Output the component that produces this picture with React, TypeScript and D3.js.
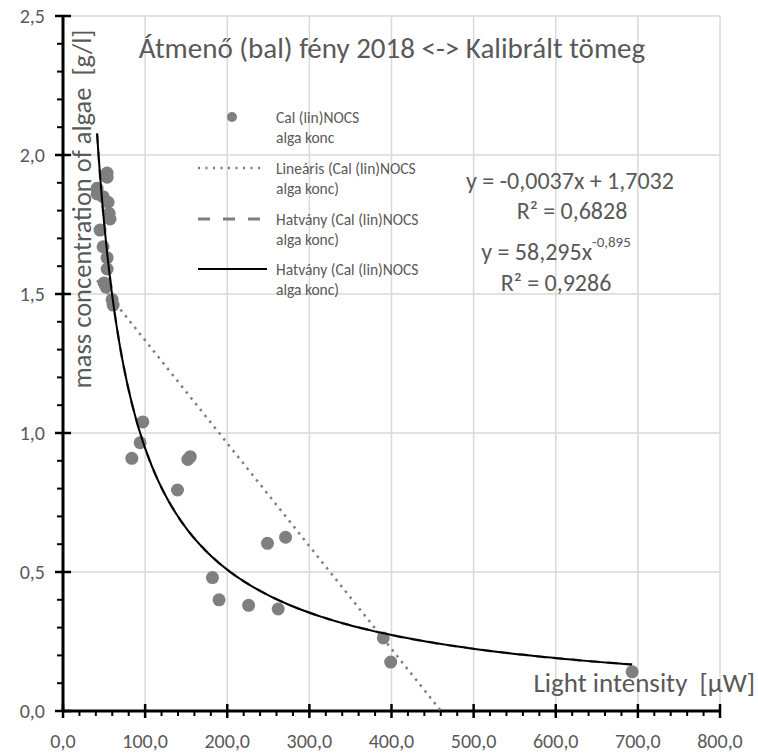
import React, { useEffect, useRef } from "react";
import * as d3 from "d3";

// measured points (light intensity in µW, algae concentration in g/l)
const lightIntensity = [
  53.7, 53.7, 41.5, 41.5, 48.8, 54.9, 56.1, 57.3, 45.1, 48.8, 53.7, 53.7, 50, 52.4, 59.8, 61,
  97.2, 93.9, 83.8, 152, 155, 139.4, 249, 271, 182, 190, 226, 262, 390, 399, 693,
];
const algaeConc = [
  1.935, 1.92, 1.88, 1.86, 1.85, 1.83, 1.79, 1.77, 1.73, 1.67, 1.63, 1.59, 1.54, 1.525, 1.48, 1.46,
  1.04, 0.965, 0.909, 0.905, 0.915, 0.795, 0.603, 0.625, 0.48, 0.4, 0.38, 0.367, 0.263, 0.176, 0.141,
];

const xTicks = [0, 100, 200, 300, 400, 500, 600, 700, 800];
const yTicks = [0, 0.5, 1.0, 1.5, 2.0, 2.5];

// trendline coefficients as printed on the chart
const linSlope = -0.0037;
const linIntercept = 1.7032;
const powCoef = 58.295;
const powExp = -0.895;

const legendLabels = [
  ["Cal (lin)NOCS", "alga konc"],
  ["Lineáris (Cal (lin)NOCS", "alga konc)"],
  ["Hatvány (Cal (lin)NOCS", "alga konc)"],
  ["Hatvány (Cal (lin)NOCS", "alga konc)"],
];

const FONT = "Calibri, Carlito, Lato, 'Open Sans', sans-serif";

const App = () => {
  const svgRef = useRef<SVGSVGElement>(null);

  useEffect(() => {
    const svg = d3.select(svgRef.current);
    svg.selectAll("*").remove();
    const width = 758;
    const height = 754;
    const left = 63;
    const right = 720;
    const top = 16;
    const bottom = 711;

    const x = d3.scaleLinear().domain([0, 800]).range([left, right]);
    const y = d3.scaleLinear().domain([0, 2.5]).range([bottom, top]);
    const fmt = d3.formatLocale({ decimal: ",", thousands: " ", grouping: [3], currency: ["", ""] }).format(".1f");

    svg.attr("width", width).attr("height", height);

    // grid
    const grid = svg.append("g");
    grid.selectAll(".vg").data(xTicks.slice(1)).enter().append("line")
      .attr("x1", (d) => x(d)).attr("x2", (d) => x(d))
      .attr("y1", top).attr("y2", bottom)
      .attr("stroke", "#d9d9d9").attr("stroke-width", 1.5);
    grid.selectAll(".hg").data(yTicks.slice(1)).enter().append("line")
      .attr("x1", left).attr("x2", right)
      .attr("y1", (d) => y(d)).attr("y2", (d) => y(d))
      .attr("stroke", "#d9d9d9").attr("stroke-width", 1.5);

    // minor ticks
    const xMinor = d3.range(0, 800, 20).filter((v) => v % 100 !== 0);
    const yMinor = d3.range(0, 25, 1).map((v) => v / 10).filter((v) => Math.round(v * 10) % 5 !== 0);
    svg.selectAll(".xm").data(xMinor).enter().append("line")
      .attr("x1", (d) => x(d)).attr("x2", (d) => x(d))
      .attr("y1", bottom).attr("y2", bottom + 5)
      .attr("stroke", "#000").attr("stroke-width", 2);
    svg.selectAll(".ym").data(yMinor).enter().append("line")
      .attr("x1", left - 6).attr("x2", left)
      .attr("y1", (d) => y(d)).attr("y2", (d) => y(d))
      .attr("stroke", "#000").attr("stroke-width", 2);

    // major ticks
    svg.selectAll(".xM").data(xTicks).enter().append("line")
      .attr("x1", (d) => x(d)).attr("x2", (d) => x(d))
      .attr("y1", bottom - 7).attr("y2", bottom + 7)
      .attr("stroke", "#000").attr("stroke-width", 2.5);
    svg.selectAll(".yM").data(yTicks).enter().append("line")
      .attr("x1", left - 8).attr("x2", left + 8)
      .attr("y1", (d) => y(d)).attr("y2", (d) => y(d))
      .attr("stroke", "#000").attr("stroke-width", 2.5);

    // axis lines
    svg.append("line").attr("x1", left).attr("x2", right).attr("y1", bottom).attr("y2", bottom)
      .attr("stroke", "#000").attr("stroke-width", 3);
    svg.append("line").attr("x1", left).attr("x2", left).attr("y1", top).attr("y2", bottom)
      .attr("stroke", "#000").attr("stroke-width", 3);

    // tick labels
    svg.selectAll(".xl").data(xTicks).enter().append("text")
      .attr("x", (d) => x(d)).attr("y", 741)
      .attr("text-anchor", "middle").attr("dominant-baseline", "central")
      .attr("font-family", FONT).attr("font-size", 20).attr("fill", "#595959")
      .text((d) => fmt(d));
    svg.selectAll(".yl").data(yTicks).enter().append("text")
      .attr("x", 45).attr("y", (d) => y(d))
      .attr("text-anchor", "end").attr("dominant-baseline", "central")
      .attr("font-family", FONT).attr("font-size", 20).attr("fill", "#595959")
      .text((d) => fmt(d));

    // axis titles
    svg.append("text")
      .attr("transform", `translate(82, 209) rotate(-90)`)
      .attr("text-anchor", "middle").attr("dominant-baseline", "central")
      .attr("font-family", FONT).attr("font-size", 26.5).attr("fill", "#595959")
      .attr("xml:space", "preserve")
      .text("mass concentration of algae  [g/l]");
    svg.append("text")
      .attr("x", 755).attr("y", 682)
      .attr("text-anchor", "end").attr("dominant-baseline", "central")
      .attr("font-family", FONT).attr("font-size", 27).attr("fill", "#595959")
      .attr("xml:space", "preserve")
      .text("Light intensity  [µW]");

    // chart title
    svg.append("text")
      .attr("x", 392).attr("y", 48)
      .attr("text-anchor", "middle").attr("dominant-baseline", "central")
      .attr("font-family", FONT).attr("font-size", 29).attr("fill", "#595959")
      .text("Átmenő (bal) fény 2018 <-> Kalibrált tömeg");

    // points
    const pts = lightIntensity.map((v, i) => ({ x: v, y: algaeConc[i] }));
    svg.selectAll(".dot").data(pts).enter().append("circle")
      .attr("cx", (d) => x(d.x)).attr("cy", (d) => y(d.y))
      .attr("r", 6.5).attr("fill", "#7f7f7f");

    // linear trend (dotted)
    const xMin = d3.min(lightIntensity) as number;
    const xMax = d3.max(lightIntensity) as number;
    const xZero = -linIntercept / linSlope;
    const linEnd = Math.min(xMax, xZero);
    const line = d3.line<number[]>().x((d) => x(d[0])).y((d) => y(d[1]));
    svg.append("path")
      .attr("d", line([[xMin, linSlope * xMin + linIntercept], [linEnd, linSlope * linEnd + linIntercept]]))
      .attr("fill", "none").attr("stroke", "#7f7f7f").attr("stroke-width", 2.5)
      .attr("stroke-dasharray", "2.5 5");

    // power trend: dashed gray underneath, solid black on top
    const powPts = d3.range(0, 201).map((i) => {
      const xv = xMin * Math.pow(xMax / xMin, i / 200);
      return [xv, powCoef * Math.pow(xv, powExp)];
    });
    svg.append("path").attr("d", line(powPts))
      .attr("fill", "none").attr("stroke", "#7f7f7f").attr("stroke-width", 2.5)
      .attr("stroke-dasharray", "10 8");
    svg.append("path").attr("d", line(powPts))
      .attr("fill", "none").attr("stroke", "#000").attr("stroke-width", 2);

    // legend
    const lg = svg.append("g");
    const rows = [117, 168, 219, 269];
    lg.append("circle").attr("cx", 232).attr("cy", rows[0]).attr("r", 5).attr("fill", "#7f7f7f");
    lg.append("line").attr("x1", 198).attr("x2", 263).attr("y1", rows[1]).attr("y2", rows[1])
      .attr("stroke", "#7f7f7f").attr("stroke-width", 2.5).attr("stroke-dasharray", "2 5.5");
    lg.append("line").attr("x1", 198).attr("x2", 267).attr("y1", rows[2]).attr("y2", rows[2])
      .attr("stroke", "#7f7f7f").attr("stroke-width", 3).attr("stroke-dasharray", "12 13");
    lg.append("line").attr("x1", 198).attr("x2", 267).attr("y1", rows[3]).attr("y2", rows[3])
      .attr("stroke", "#000").attr("stroke-width", 2);
    legendLabels.forEach((lbl, i) => {
      lbl.forEach((t, j) => {
        lg.append("text")
          .attr("x", 276).attr("y", rows[i] + j * 20)
          .attr("dominant-baseline", "central")
          .attr("font-family", FONT).attr("font-size", 15.5).attr("fill", "#595959")
          .text(t);
      });
    });

    // trendline equations
    const eq = svg.append("g").attr("font-family", FONT).attr("font-size", 24).attr("fill", "#595959")
      .attr("text-anchor", "middle");
    eq.append("text").attr("x", 570).attr("y", 180).attr("dominant-baseline", "central")
      .text("y = -0,0037x + 1,7032");
    eq.append("text").attr("x", 572).attr("y", 210).attr("dominant-baseline", "central")
      .text("R² = 0,6828");
    const t3 = eq.append("text").attr("x", 556).attr("y", 251).attr("dominant-baseline", "central");
    t3.append("tspan").text("y = 58,295x");
    t3.append("tspan").attr("font-size", 15).attr("dy", -9).text("-0,895");
    eq.append("text").attr("x", 556).attr("y", 282).attr("dominant-baseline", "central")
      .text("R² = 0,9286");
  }, []);

  return (
    <div style={{ position: "absolute", left: 0, top: 0 }}>
      <svg ref={svgRef} style={{ display: "block" }} />
    </div>
  );
};

export default App;
